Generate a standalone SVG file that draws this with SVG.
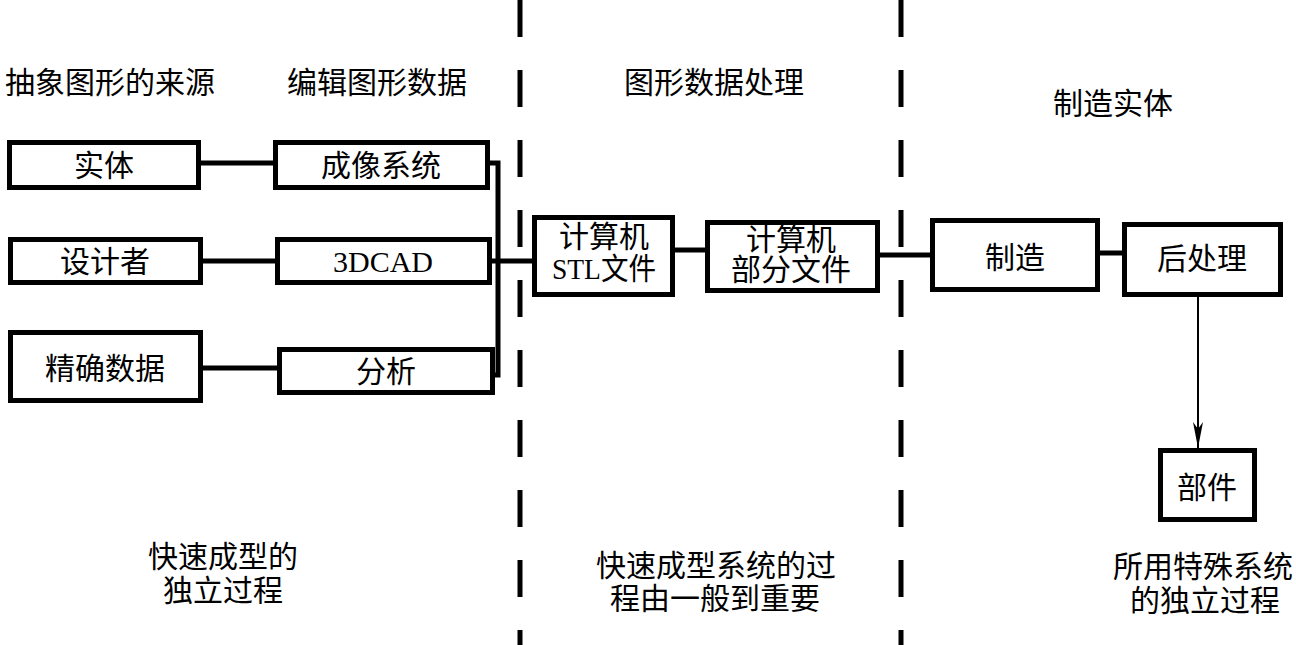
<svg xmlns="http://www.w3.org/2000/svg" width="1296" height="645" viewBox="0 0 1296 645">
<style>
.box{fill:#fff;stroke:#000;stroke-width:5}
.t{font-family:"Liberation Serif","Noto Sans CJK SC",serif;font-size:30px;fill:#000;text-anchor:middle;dominant-baseline:central}
.c{fill:none;stroke:#000;stroke-width:5}
.thin{fill:none;stroke:#000;stroke-width:2}
.dash{fill:none;stroke:#000;stroke-width:5;stroke-dasharray:37 33}
</style>
<defs>
<marker id="arr" markerWidth="26" markerHeight="10" refX="26" refY="5" orient="auto" markerUnits="userSpaceOnUse" viewBox="0 0 26 10">
<path d="M0,0 L26,5 L0,10 L7,5 Z" fill="#000"/>
</marker>
</defs>
<rect width="1296" height="645" fill="#fff"/>
<g id="dividers">
<line class="dash" x1="520" y1="0" x2="520" y2="645"/>
<line class="dash" x1="901" y1="0" x2="901" y2="645"/>
</g>
<g id="headings">
<text class="t" x="110" y="82">抽象图形的来源</text>
<text class="t" x="377" y="82">编辑图形数据</text>
<text class="t" x="714" y="82">图形数据处理</text>
<text class="t" x="1113" y="103">制造实体</text>
<text class="t" x="223" y="556">快速成型的</text>
<text class="t" x="223" y="590">独立过程</text>
<text class="t" x="716" y="565">快速成型系统的过</text>
<text class="t" x="715" y="598">程由一般到重要</text>
<text class="t" x="1203" y="566">所用特殊系统</text>
<text class="t" x="1205" y="600">的独立过程</text>
</g>
<g id="connectors">
<path class="c" d="M201,163 H275"/>
<path class="c" d="M203,261 H277"/>
<path class="c" d="M203,368 H279"/>
<path class="c" d="M489,163 H498 V375 H492"/>
<path class="c" d="M491,261 H534"/>
<path class="c" d="M675,250 H707"/>
<path class="c" d="M880,255 H932"/>
<path class="c" d="M1100,253 H1124"/>
<path class="thin" d="M1198,297 V448" marker-end="url(#arr)"/>
</g>
<g id="n-shiti"><rect class="box" x="9.5" y="142.5" width="189" height="45"/><text class="t" x="104" y="165">实体</text></g>
<g id="n-chengxiang"><rect class="box" x="275.5" y="142.5" width="212" height="45"/><text class="t" x="381" y="165">成像系统</text></g>
<g id="n-shejizhe"><rect class="box" x="10.5" y="239.5" width="190" height="43"/><text class="t" x="105" y="261">设计者</text></g>
<g id="n-3dcad"><rect class="box" x="277.5" y="239.5" width="212" height="43"/><text class="t" x="383" y="261">3DCAD</text></g>
<g id="n-jingque"><rect class="box" x="10.5" y="332.5" width="190" height="68"/><text class="t" x="105" y="368">精确数据</text></g>
<g id="n-fenxi"><rect class="box" x="279.5" y="349.5" width="213" height="43"/><text class="t" x="386" y="371">分析</text></g>
<g id="n-stl"><rect class="box" x="534.5" y="217.5" width="138" height="77"/><text class="t" x="604" y="236">计算机</text><text class="t" x="604" y="268" textLength="104" lengthAdjust="spacingAndGlyphs">STL文件</text></g>
<g id="n-bufen"><rect class="box" x="707.5" y="222.5" width="170" height="68"/><text class="t" x="791" y="239">计算机</text><text class="t" x="791" y="269">部分文件</text></g>
<g id="n-zhizao"><rect class="box" x="932.5" y="220.5" width="165" height="69"/><text class="t" x="1015" y="257">制造</text></g>
<g id="n-houchuli"><rect class="box" x="1124.5" y="224.5" width="156" height="70"/><text class="t" x="1202" y="258">后处理</text></g>
<g id="n-bujian"><rect class="box" x="1160.5" y="450.5" width="94" height="69"/><text class="t" x="1207" y="487">部件</text></g>
</svg>
